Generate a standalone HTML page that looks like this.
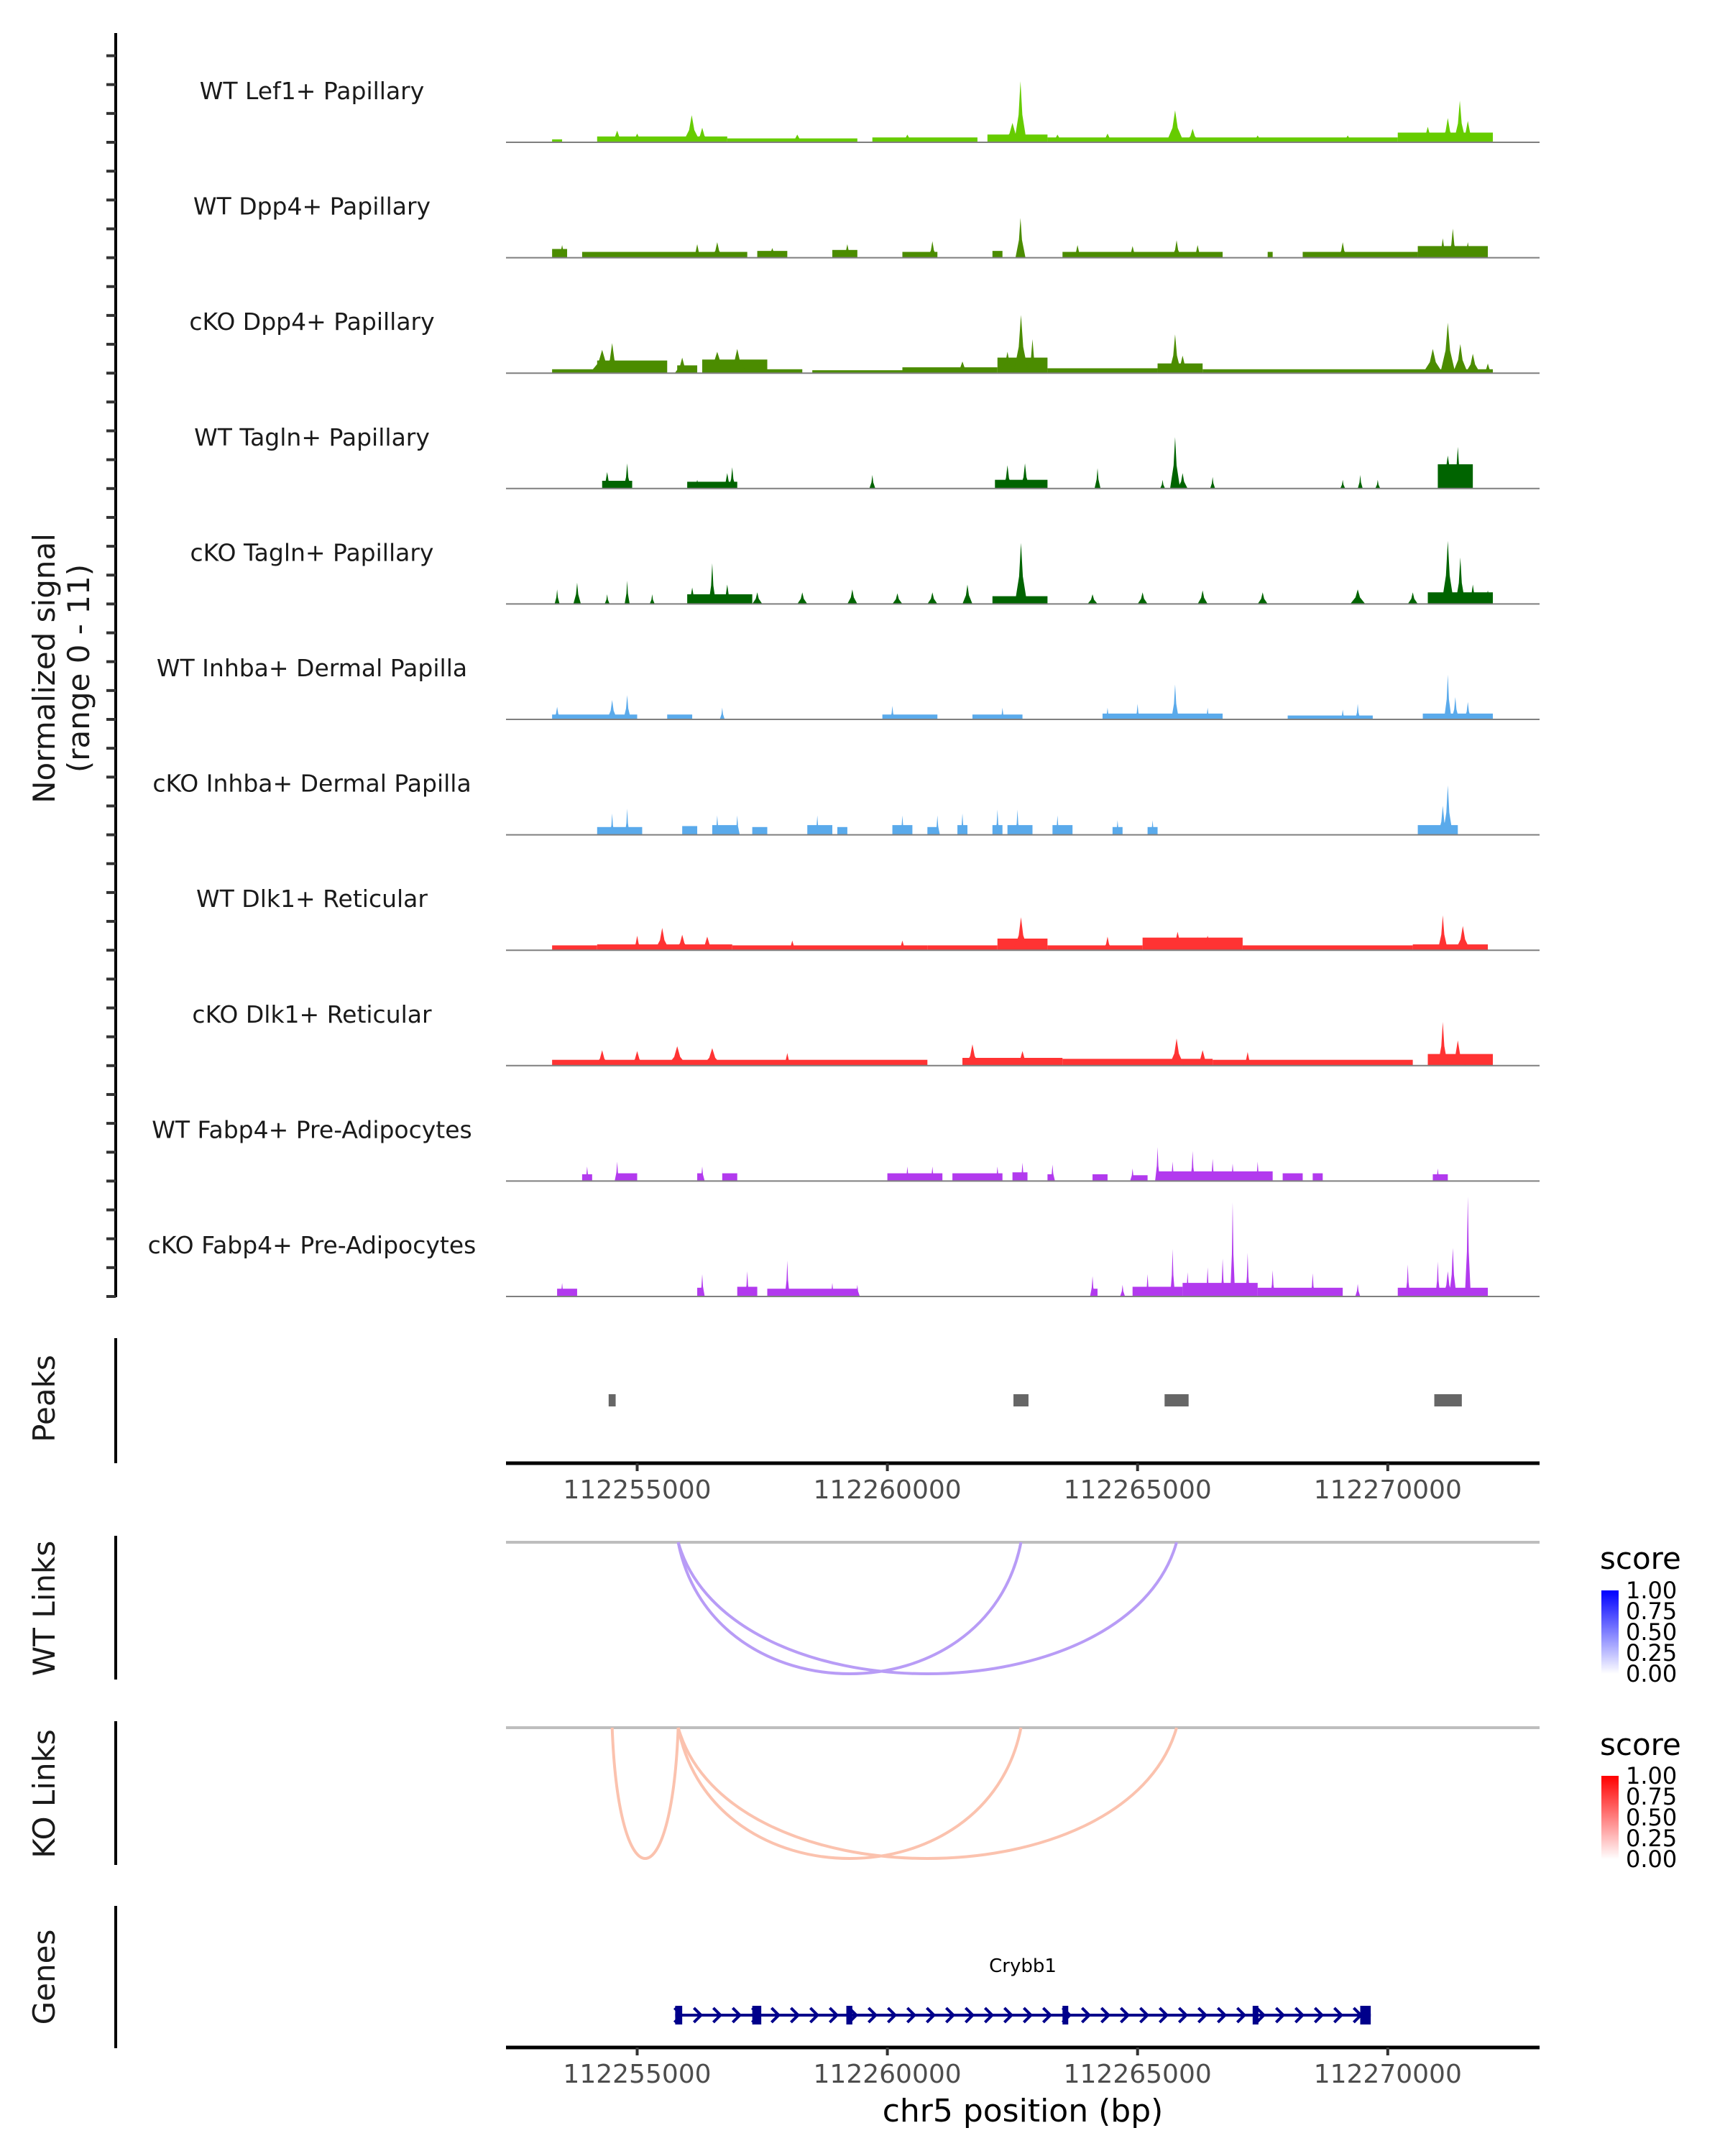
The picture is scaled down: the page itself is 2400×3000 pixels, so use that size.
<!DOCTYPE html>
<html><head><meta charset="utf-8"><style>
html,body{margin:0;padding:0;background:#fff;}
svg{display:block;font-family:"DejaVu Sans","Liberation Sans",sans-serif;}
</style></head><body>
<svg id="fig" width="2400" height="3000" viewBox="0 0 2400 3000" xmlns="http://www.w3.org/2000/svg">
<text transform="translate(76,930) rotate(-90)" text-anchor="middle" font-size="42" fill="#1a1a1a">Normalized signal</text>
<text transform="translate(124,930) rotate(-90)" text-anchor="middle" font-size="42" fill="#1a1a1a">(range 0 - 11)</text>
<text transform="translate(76,1946) rotate(-90)" text-anchor="middle" font-size="42" fill="#1a1a1a">Peaks</text>
<text transform="translate(76,2238) rotate(-90)" text-anchor="middle" font-size="42" fill="#1a1a1a">WT Links</text>
<text transform="translate(76,2496) rotate(-90)" text-anchor="middle" font-size="42" fill="#1a1a1a">KO Links</text>
<text transform="translate(76,2751) rotate(-90)" text-anchor="middle" font-size="42" fill="#1a1a1a">Genes</text>
<text x="1423" y="2952" text-anchor="middle" font-size="44" fill="#000">chr5 position (bp)</text>
<text x="1423" y="2744" text-anchor="middle" font-size="26" fill="#000">Crybb1</text>
<defs>
<linearGradient id="gb" x1="0" y1="1" x2="0" y2="0"><stop offset="0" stop-color="#ffffff"/><stop offset="1" stop-color="#0000ff"/></linearGradient>
<linearGradient id="gr" x1="0" y1="1" x2="0" y2="0"><stop offset="0" stop-color="#ffffff"/><stop offset="1" stop-color="#ff0000"/></linearGradient>
</defs>
<g id="legend-wt">
<text x="2226" y="2183" font-size="42" fill="#000">score</text>
<rect x="2228" y="2213" width="24" height="116" fill="url(#gb)"/>
<text x="2262" y="2224" font-size="32">1.00</text><text x="2262" y="2253" font-size="32">0.75</text><text x="2262" y="2282" font-size="32">0.50</text><text x="2262" y="2311" font-size="32">0.25</text><text x="2262" y="2340" font-size="32">0.00</text>
</g>
<g id="legend-ko">
<text x="2226" y="2442" font-size="42" fill="#000">score</text>
<rect x="2228" y="2471" width="24" height="116" fill="url(#gr)"/>
<text x="2262" y="2482" font-size="32">1.00</text><text x="2262" y="2511" font-size="32">0.75</text><text x="2262" y="2540" font-size="32">0.50</text><text x="2262" y="2569" font-size="32">0.25</text><text x="2262" y="2598" font-size="32">0.00</text>
</g>
<g id="g"></g>
</svg>
<script>
// positions in kb offset from 112250000
const trackNames = ["WT Lef1+ Papillary","WT Dpp4+ Papillary","cKO Dpp4+ Papillary","WT Tagln+ Papillary","cKO Tagln+ Papillary","WT Inhba+ Dermal Papilla","cKO Inhba+ Dermal Papilla","WT Dlk1+ Reticular","cKO Dlk1+ Reticular","WT Fabp4+ Pre-Adipocytes","cKO Fabp4+ Pre-Adipocytes"];
const trackColors = ["#66cc00","#4b8c00","#4b8c00","#006400","#006400","#5aaaeb","#5aaaeb","#ff3333","#ff3333","#b23aee","#b23aee"];
const blocks0 = [[3.3,3.5,0.3],[4.2,6.8,0.6],[6.8,9.4,0.4],[9.7,11.8,0.5],[12.0,13.2,0.8],[13.2,20.2,0.5],[20.2,22.1,1.0]];
const peaks0 = [[4.6,1.2,.3],[5.0,0.9,.3],[6.09,2.8,.35],[6.3,1.5,.3],[8.2,0.8,.3],[10.4,0.8,.3],[12.5,2.0,.4],[12.66,6.3,.25],[13.4,0.8,.3],[14.4,0.9,.3],[15.75,3.3,.35],[16.1,1.4,.3],[17.4,0.7,.3],[19.2,0.7,.3],[20.8,1.6,.3],[21.2,2.5,.3],[21.44,4.3,.25],[21.6,2.2,.3]];
const blocks1 = [[3.3,3.6,0.9],[3.9,7.2,0.6],[7.4,8.0,0.7],[8.9,9.4,0.8],[10.3,11.0,0.6],[12.1,12.3,0.7],[13.5,16.7,0.6],[17.6,17.7,0.6],[18.3,20.6,0.6],[20.6,22.0,1.2]];
const peaks1 = [[3.5,1.3,.2],[6.2,1.4,.2],[6.6,1.6,.25],[7.7,1.0,.25],[9.2,1.4,.2],[10.9,1.7,.2],[12.66,4.1,.2],[13.8,1.3,.2],[14.9,1.2,.2],[15.78,1.8,.2],[16.2,1.3,.2],[19.1,1.6,.2],[21.1,2.0,.2],[21.3,3.0,.2],[21.6,1.6,.2],[21.9,1.2,.2]];
const blocks2 = [[3.3,4.2,0.4],[4.2,5.6,1.3],[5.8,6.2,0.8],[6.3,7.6,1.4],[7.6,8.3,0.4],[8.5,10.3,0.3],[10.3,12.2,0.6],[12.2,13.2,1.6],[13.2,15.4,0.5],[15.4,16.3,1.0],[16.3,22.1,0.4]];
const peaks2 = [[4.3,2.4,.5],[4.5,3.1,.3],[5.9,1.6,.3],[6.6,2.2,.5],[7.0,2.5,.4],[11.5,1.2,.3],[12.4,2.2,.3],[12.67,6.0,.3],[12.9,3.5,.2],[15.75,4.0,.25],[15.9,1.8,.3],[20.9,2.5,.4],[21.2,5.2,.3],[21.45,3.0,.3],[21.7,2.0,.3],[22.0,1.0,.2]];
const blocks3 = [[4.3,4.9,0.8],[6.0,7.0,0.7],[12.15,13.2,0.9],[21.0,21.7,2.5]];
const peaks3 = [[4.4,1.7,.2],[4.8,2.6,.15],[6.2,0.9,.15],[6.8,1.6,.2],[6.9,2.2,.15],[9.7,1.4,.12],[12.4,2.4,.2],[12.75,2.6,.2],[14.2,2.1,.12],[15.5,0.9,.1],[15.75,5.3,.2],[15.9,1.6,.2],[16.5,1.2,.1],[19.1,0.9,.1],[19.45,1.4,.1],[19.8,0.9,.1],[21.2,3.4,.35],[21.4,4.3,.2]];
const blocks4 = [[6.0,7.3,1.0],[12.1,13.2,0.8],[20.8,22.1,1.2]];
const peaks4 = [[3.4,1.5,.1],[3.8,2.2,.15],[4.4,1.0,.1],[4.8,2.4,.1],[5.3,1.0,.1],[6.1,1.7,.2],[6.5,4.2,.15],[6.8,2.0,.2],[7.4,1.2,.2],[8.3,1.2,.2],[9.3,1.5,.2],[10.2,1.1,.2],[10.9,1.2,.2],[11.6,2.0,.2],[12.67,6.3,.25],[14.1,1.0,.2],[15.1,1.2,.2],[16.3,1.4,.2],[17.5,1.2,.2],[19.4,1.5,.3],[20.5,1.2,.2],[21.2,6.5,.25],[21.45,4.8,.2],[21.7,2.0,.2],[22.0,1.4,.2]];
const blocks5 = [[3.3,5.0,0.5],[5.6,6.1,0.5],[9.9,11.0,0.5],[11.7,12.7,0.5],[14.3,16.7,0.6],[18.0,19.7,0.4],[20.7,22.1,0.6]];
const peaks5 = [[3.4,1.3,.15],[4.5,2.0,.2],[4.8,2.5,.15],[6.7,1.2,.1],[10.1,1.4,.1],[12.3,1.2,.1],[14.4,1.2,.1],[15.0,1.6,.1],[15.75,3.6,.15],[16.4,1.2,.1],[19.1,1.0,.1],[19.4,1.6,.1],[21.2,4.6,.15],[21.35,2.3,.15],[21.6,1.8,.15]];
const blocks6 = [[4.2,5.1,0.8],[5.9,6.2,0.9],[6.5,7.0,1.0],[7.3,7.6,0.8],[8.4,8.9,1.0],[9.0,9.2,0.8],[10.1,10.5,1.0],[10.8,11.0,0.8],[11.4,11.6,1.0],[12.1,12.3,1.0],[12.4,12.9,1.0],[13.3,13.7,1.0],[14.5,14.7,0.8],[15.2,15.4,0.8],[20.6,21.4,1.0]];
const peaks6 = [[4.5,2.2,.1],[4.8,2.7,.1],[6.6,2.0,.1],[7.0,2.0,.1],[8.6,2.0,.1],[10.3,2.0,.1],[11.0,2.0,.1],[11.5,2.2,.1],[12.2,2.6,.1],[12.6,2.6,.1],[13.4,2.0,.1],[14.6,1.5,.1],[15.3,1.5,.1],[21.2,5.1,.2],[21.1,3.0,.2]];
const blocks7 = [[3.3,4.2,0.5],[4.2,6.9,0.6],[6.9,10.8,0.5],[10.8,12.2,0.5],[12.2,13.2,1.2],[13.2,15.1,0.5],[15.1,17.1,1.3],[17.1,20.5,0.5],[20.5,22.0,0.6]];
const peaks7 = [[5.0,1.5,.2],[5.5,2.3,.3],[5.9,1.6,.3],[6.4,1.4,.3],[8.1,1.0,.2],[10.3,1.0,.2],[12.67,3.4,.3],[14.4,1.4,.2],[15.8,1.9,.3],[16.4,1.5,.3],[21.1,3.6,.2],[21.5,2.5,.3]];
const blocks8 = [[3.3,10.8,0.6],[11.5,13.5,0.8],[13.5,16.5,0.7],[16.5,20.5,0.6],[20.8,22.1,1.2]];
const peaks8 = [[4.3,1.6,.3],[5.0,1.5,.3],[5.8,2.0,.4],[6.5,1.8,.4],[8.0,1.3,.2],[11.7,2.2,.3],[12.7,1.5,.3],[15.78,2.8,.3],[16.3,1.6,.3],[17.2,1.4,.2],[21.1,4.5,.2],[21.4,2.6,.3]];
const blocks9 = [[3.9,4.1,0.7],[4.6,5.0,0.8],[6.2,6.3,0.8],[6.7,7.0,0.8],[10.0,11.1,0.8],[11.3,12.3,0.8],[12.5,12.8,0.9],[13.2,13.3,0.7],[14.1,14.4,0.7],[14.9,15.2,0.6],[15.4,17.7,1.0],[17.9,18.3,0.8],[18.5,18.7,0.8],[20.9,21.2,0.7]];
const peaks9 = [[4.0,1.5,.1],[4.6,2.0,.1],[6.3,1.5,.1],[10.4,1.5,.1],[10.9,1.5,.1],[12.2,1.5,.1],[12.7,1.9,.1],[13.3,1.7,.1],[14.9,1.3,.1],[15.4,3.5,.1],[15.7,2.0,.1],[16.1,3.1,.1],[16.5,2.3,.1],[16.9,1.8,.1],[17.4,2.0,.1],[21.0,1.3,.1]];
const blocks10 = [[3.4,3.8,0.8],[6.2,6.3,0.9],[7.0,7.4,1.0],[7.6,9.4,0.8],[14.1,14.2,0.8],[14.9,15.9,1.0],[15.9,17.4,1.4],[17.4,19.1,0.9],[20.2,22.0,0.9]];
const peaks10 = [[3.5,1.4,.1],[6.3,2.3,.1],[7.2,2.6,.1],[8.0,3.7,.1],[8.9,1.4,.1],[9.4,1.2,.1],[14.1,2.1,.1],[14.7,1.2,.1],[15.2,2.3,.1],[15.7,4.9,.1],[16.0,2.5,.1],[16.4,3.0,.1],[16.7,3.9,.1],[16.9,9.7,.1],[17.2,4.5,.1],[17.7,2.7,.1],[18.5,2.4,.1],[19.4,1.3,.1],[20.4,3.3,.1],[21.0,3.6,.1],[21.3,5.0,.15],[21.6,10.3,.12],[21.2,2.6,.2]];
const allBlocks = [blocks0,blocks1,blocks2,blocks3,blocks4,blocks5,blocks6,blocks7,blocks8,blocks9,blocks10];
const allPeaks = [peaks0,peaks1,peaks2,peaks3,peaks4,peaks5,peaks6,peaks7,peaks8,peaks9,peaks10];
const peakRegions = [[4.43,4.57],[12.52,12.82],[15.54,16.02],[20.93,21.48]];
const xTicks = [5,10,15,20];
const xTickLabels = ["112255000","112260000","112265000","112270000"];
const wtLinks = [[5.82,12.67,0.3],[5.82,15.78,0.3]];
const koLinks = [[4.5,5.82,0.2],[5.82,12.67,0.25],[5.82,15.78,0.25]];
const geneStart = 5.76, geneEnd = 19.66;
const exons = [[5.76,5.9],[7.3,7.48],[9.18,9.3],[13.5,13.6],[17.3,17.4],[19.45,19.66]];

const NS="http://www.w3.org/2000/svg";
const G=document.getElementById('g');
const X0=704,X1=2142;
function xs(kb){return 886.5+(kb-5)*69.62;}
function el(t,a){const e=document.createElementNS(NS,t);for(const k in a)e.setAttribute(k,a[k]);G.appendChild(e);return e;}
const unitPx=13.5;
const base0=198, step=160.6;
let ax=el('line',{x1:161,y1:46,x2:161,y2:1805,stroke:'#000','stroke-width':4});


for(let i=0;i<11;i++){
  const b=base0+i*step;
  for(let k=0;k<4;k++){
    const t=el('line',{x1:148,y1:b-k*40.15,x2:161,y2:b-k*40.15,stroke:'#333','stroke-width':4});
    
    
  }
  const lab=el('text',{x:434,y:b-60,'text-anchor':'middle','font-size':33,fill:'#1a1a1a'});
  lab.textContent=trackNames[i];
  
  
  const col=trackColors[i];
  for(const bl of allBlocks[i]){
    const r=el('rect',{x:xs(bl[0]),y:b-bl[2]*unitPx,width:xs(bl[1])-xs(bl[0]),height:bl[2]*unitPx,fill:col});
    
    
  }
  for(const p of allPeaks[i]){
    const c=xs(p[0]),w=p[2]*69.62/2,h=p[1]*unitPx;
    const pg=el('polygon',{points:`${c-w},${b} ${c-w*0.3},${b-h*0.45} ${c},${b-h} ${c+w*0.3},${b-h*0.45} ${c+w},${b}`,fill:col});
    
    
  }
  const bl=el('line',{x1:X0,y1:b,x2:X1,y2:b,stroke:'#7f7f7f','stroke-width':2});
  
  
}
for(const [y1,y2,n] of [[1862,2036,'peaks-axis'],[2137,2337,'wt-links-axis'],[2395,2595,'ko-links-axis'],[2652,2850,'genes-axis']]){
  const a=el('line',{x1:161,y1:y1,x2:161,y2:y2,stroke:'#000','stroke-width':4});
  
  
}
for(const pr of peakRegions){
  const r=el('rect',{x:xs(pr[0]),y:1940,width:xs(pr[1])-xs(pr[0]),height:17,fill:'#666'});
  
  
}
function xAxis(y,name){
  const a=el('line',{x1:X0,y1:y,x2:X1,y2:y,stroke:'#000','stroke-width':5});
  
  
  xTicks.forEach((t,j)=>{
    const tk=el('line',{x1:xs(t),y1:y,x2:xs(t),y2:y+11,stroke:'#333','stroke-width':4});
    
    
    const tl=el('text',{x:xs(t),y:y+49,'text-anchor':'middle','font-size':36,fill:'#4d4d4d'});
    tl.textContent=xTickLabels[j];
    
    
  });
}
xAxis(2036,'peaks-x-axis');
xAxis(2849,'genes-x-axis');
function links(arr,y0,depth,color,name){
  const l=el('line',{x1:X0,y1:y0,x2:X1,y2:y0,stroke:'#bebebe','stroke-width':4});
  
  
  for(const lk of arr){
    const a=xs(lk[0]),c=xs(lk[1]),d=depth*4/3;
    const p=el('path',{d:`M${a},${y0} C${a+(c-a)*0.1},${y0+d} ${c-(c-a)*0.1},${y0+d} ${c},${y0}`,fill:'none',stroke:color,'stroke-width':4});
    
    
  }
}
links(wtLinks,2146,183,'#b89cf6','wt-link');
links(koLinks,2404,182,'#fbc2ae','ko-link');
const gy=2804;
const gl=el('line',{x1:xs(geneStart),y1:gy,x2:xs(geneEnd),y2:gy,stroke:'#00008b','stroke-width':4});


for(let x=xs(geneStart)+4;x<xs(geneEnd)-10;x+=27){
  const c=el('polyline',{points:`${x-5},${gy-10} ${x+5},${gy} ${x-5},${gy+10}`,fill:'none',stroke:'#00008b','stroke-width':4});
  
  
}
for(const ex of exons){
  const r=el('rect',{x:xs(ex[0]),y:gy-13,width:Math.max(8,xs(ex[1])-xs(ex[0])),height:26,fill:'#00008b'});
  
  
}
</script>
</body></html>
